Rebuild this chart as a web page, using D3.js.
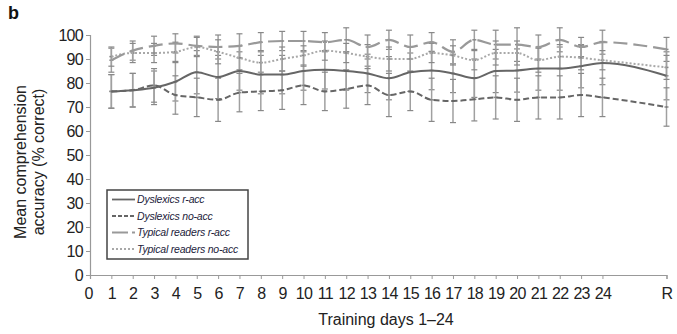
<!DOCTYPE html>
<html>
<head>
<meta charset="utf-8">
<script src="https://cdn.jsdelivr.net/npm/d3@7"></script>
<style>
  body { margin: 0; background: #fff; }
  svg { font-family: "Liberation Sans", Arial, sans-serif; }
</style>
</head>
<body>
<div id="chart"></div>
<script>
// Training days; R (retention) sits after a gap on the axis
const dayLabels = ['1','2','3','4','5','6','7','8','9','10','11','12','13','14','15','16','17','18','19','20','21','22','23','24','R'];
const dayPos = [1,2,3,4,5,6,7,8,9,10,11,12,13,14,15,16,17,18,19,20,21,22,23,24,27];
const xTicks = [0,1,2,3,4,5,6,7,8,9,10,11,12,13,14,15,16,17,18,19,20,21,22,23,24,27];
const yTicks = [0,10,20,30,40,50,60,70,80,90,100];

const seriesNames = ['Dyslexics r-acc', 'Dyslexics no-acc', 'Typical readers r-acc', 'Typical readers no-acc'];

const dysR   = [76.5,77,78,80.5,84.5,82.5,85,83.5,83.5,85,85.5,85,84,82,84.5,85.2,84,82,85,85.2,86,86,87,88.3,83];
const dysNo  = [76.5,77,79,75,74,73,76,76.5,77,79,76.5,77.5,79,75,76.5,73,72.5,73.2,74,73,74,74,75,74,70];
const typR   = [89.5,93.5,95.5,96.5,95.5,95,95.5,97,97.5,97.5,97,98,95,98,95,97,93,98,96,96,95,98,95,97,94];
const typNo  = [91,92.5,92.5,93,95,93,90.5,88.5,90,91.5,93.5,92.5,91,90,90,92.5,91.5,89.5,92.5,92.5,89.5,91,90.5,89.5,86.5];

const dysRErr  = [7,7,7,8,9,9,8,8,8,8,8,8,8,9,8,8,8,8,9,9,9,9,9,9,10];
const dysNoErr = [7,7,7,8,8,9,8,8,8,8,8,8,8,9,8,9,9,9,9,9,9,9,9,8,8];
const typRErr  = [5,4,4,4,4,5,5,4,4,4,4,5,5,4,5,4,5,4,6,7,5,5,4,5,5];
const typNoErr = [4,4,4,4,4,5,5,5,5,4,4,4,5,5,5,4,4,4,5,5,5,5,5,4,5];

const width = 677, height = 334;
const svg = d3.select('#chart').append('svg')
  .attr('width', width)
  .attr('height', height);

const x = d3.scaleLinear().domain([0, 27]).range([90, 666.5]);
const y = d3.scaleLinear().domain([0, 100]).range([275, 35]);

const styles = [
  {color: '#666', width: 2, dash: null},
  {color: '#666', width: 2, dash: '6,3'},
  {color: '#999', width: 2.2, dash: '14,6'},
  {color: '#a8a8a8', width: 2, dash: '2,2'}
];

const series = [
  {vals: dysR, err: dysRErr},
  {vals: dysNo, err: dysNoErr},
  {vals: typR, err: typRErr},
  {vals: typNo, err: typNoErr}
].map((s, i) => ({
  name: seriesNames[i],
  style: styles[i],
  points: s.vals.map((v, j) => ({pos: dayPos[j], v: v, e: s.err[j]}))
}));

// axes
const xAxis = svg.append('g')
  .attr('transform', `translate(0,${y(0)})`)
  .call(d3.axisBottom(x).tickValues(xTicks).tickSize(4).tickPadding(9)
    .tickFormat(d => d === 27 ? 'R' : String(d)));
const yAxis = svg.append('g')
  .attr('transform', `translate(${x(0)},0)`)
  .call(d3.axisLeft(y).tickValues(yTicks).tickSize(4).tickPadding(3));

[xAxis, yAxis].forEach(g => {
  g.select('.domain').attr('stroke', '#999').attr('stroke-width', 1.2);
  g.selectAll('.tick line').attr('stroke', '#999');
  g.selectAll('text').attr('fill', '#222').style('font-size', '16px')
    .style('letter-spacing', '-0.7px');
});
xAxis.select('.tick text').attr('dx', '-2');

// error bars
series.forEach(s => {
  const g = svg.append('g');
  s.points.forEach(p => {
    const x0 = x(p.pos);
    g.append('line')
      .attr('x1', x0).attr('x2', x0)
      .attr('y1', y(p.v + p.e)).attr('y2', y(p.v - p.e))
      .attr('stroke', '#a0a0a0').attr('stroke-width', 1.5);
    [p.v + p.e, p.v - p.e].forEach(c => {
      g.append('line')
        .attr('x1', x0 - 3).attr('x2', x0 + 3)
        .attr('y1', y(c)).attr('y2', y(c))
        .attr('stroke', '#888').attr('stroke-width', 1.2);
    });
    g.append('line')
      .attr('x1', x0 - 2).attr('x2', x0 + 2)
      .attr('y1', y(p.v)).attr('y2', y(p.v))
      .attr('stroke', '#888').attr('stroke-width', 1.5);
  });
});

// series lines
const line = d3.line()
  .x(d => x(d.pos))
  .y(d => y(d.v))
  .curve(d3.curveMonotoneX);

series.slice().reverse().forEach(s => {
  svg.append('path')
    .datum(s.points)
    .attr('fill', 'none')
    .attr('stroke', s.style.color)
    .attr('stroke-width', s.style.width)
    .attr('stroke-dasharray', s.style.dash)
    .attr('d', line);
});

// legend
const legend = svg.append('g').attr('transform', 'translate(107,190)');
legend.append('rect')
  .attr('width', 141).attr('height', 69)
  .attr('fill', '#fff')
  .attr('stroke', '#444').attr('stroke-width', 1.5);
series.forEach((s, i) => {
  const ly = 9.5 + i * 16.5;
  legend.append('line')
    .attr('x1', 5).attr('x2', 28)
    .attr('y1', ly).attr('y2', ly)
    .attr('stroke', s.style.color)
    .attr('stroke-width', 1.8)
    .attr('stroke-dasharray', i === 2 ? '16,4' : (i === 1 ? '4,2' : s.style.dash));
  legend.append('text')
    .attr('x', 30).attr('y', ly + 3.5)
    .style('font-size', '10.5px')
    .style('font-style', 'italic')
    .style('letter-spacing', '-0.2px')
    .attr('fill', '#22223a')
    .text(s.name);
});

// axis titles
svg.append('text')
  .attr('transform', 'translate(26,162) rotate(-90)')
  .attr('text-anchor', 'middle')
  .style('font-size', '16px')
  .attr('fill', '#222')
  .text('Mean comprehension');
svg.append('text')
  .attr('transform', 'translate(44,162) rotate(-90)')
  .attr('text-anchor', 'middle')
  .style('font-size', '16px')
  .attr('fill', '#222')
  .text('accuracy (% correct)');

svg.append('text')
  .attr('x', 386).attr('y', 325)
  .attr('text-anchor', 'middle')
  .style('font-size', '16px')
  .attr('fill', '#222')
  .text('Training days 1–24');

// panel letter
svg.append('text')
  .attr('x', 8).attr('y', 19)
  .style('font-size', '18px')
  .style('font-weight', 'bold')
  .attr('fill', '#111')
  .text('b');
</script>
</body>
</html>
